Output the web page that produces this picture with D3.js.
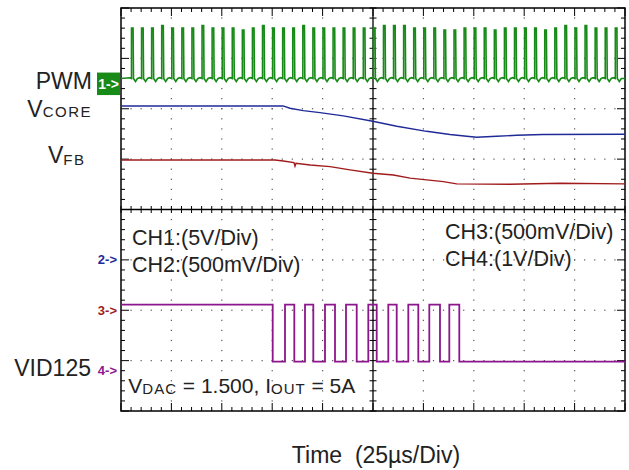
<!DOCTYPE html>
<html><head><meta charset="utf-8">
<script src="https://cdn.jsdelivr.net/npm/d3@7"></script>
<style>html,body{margin:0;padding:0;background:#fff;}svg{display:block;font-family:"Liberation Sans",Arial,sans-serif;}</style>
</head><body>
<svg id="c" width="629" height="470"></svg>
<script>
// ---- data (time in µs, values in volts) ----
const pwmTimes = [5.2,10.2,15.2,20.2,25.2,30.2,35.2,40.2,45.2,50.2,55.2,60.2,65.2,70.2,75.2,80.2,85.2,90.2,95.2,100.2,105.2,110.2,115.2,120.2,125.2,130.2,135.2,140.2,145.2,150.2,155.2,160.2,165.2,170.2,175.2,180.2,185.2,190.2,195.2,200.2,205.2,210.2,215.2,220.2,225.2,230.2,235.2,240.2,245.2];
const pwmPeaks = [5.5,5.5,5.5,5.75,5.5,5.5,5.5,5.75,5.5,5.5,5.5,5.3,5.5,5.75,5.5,5.5,5.5,5.75,5.5,5.5,5.5,5.5,5.5,5.5,5.5,5.75,5.75,5.75,5.5,5.5,5.5,5.3,5.3,5.5,5.5,5.5,5.3,5.5,5.5,5.5,5.5,5.3,5.5,5.75,5.5,5.75,5.5,5.5,5.5];
const pwmLow = 0.5;
const vcoreT = [0,80.4,83.8,90.4,98.7,110.3,124.9,136.8,151.6,163.2,171.5,176.4,186.4,196.3,209.3,250];
const vcoreV = [1.528,1.528,1.505,1.481,1.461,1.429,1.376,1.326,1.276,1.244,1.227,1.217,1.227,1.237,1.244,1.247];
const vfbT = [0,76.4,80.5,85.8,86.3,86.8,93.8,103.7,113.6,124.9,135.1,143.4,151.6,159.9,166.5,192.9,217.8,250];
const vfbV = [1.492,1.492,1.482,1.465,1.43,1.459,1.442,1.426,1.393,1.360,1.343,1.311,1.294,1.277,1.254,1.251,1.261,1.254];
const vidEdges = [75.25,81.35,85.96,91.27,95.39,101.19,106.15,111.61,116.92,122.67,126.84,132.59,136.76,142.51,147.47,152.93,158.23,162.85,167.81];
const vidHigh = 1.31, vidLow = 0.18;
const channels = [
  {name:"1->", offset:2.5, vdiv:5, color:"#178a17"},
  {name:"2->", offset:-1, vdiv:0.5, color:"#1f2a96"},
  {name:"3->", offset:-2, vdiv:0.5, color:"#a01c1c"},
  {name:"4->", offset:-3.2, vdiv:1, color:"#8c168c"}
];

// ---- scales ----
const svg = d3.select("#c");
const x = d3.scaleLinear().domain([0,250]).range([121,625]);
const y = d3.scaleLinear().domain([-4,4]).range([411,8]);
const chY = (ch, v) => y(ch.offset + v / ch.vdiv);
const textCol = "#222";

// ---- graticule ----
const xMinor = d3.range(0, 250.001, 5);
const yMinor = d3.range(-4, 4.001, 0.2);
const g = svg.append("g");
[1,2,3,4,6,7,8,9].forEach(k => {
  yMinor.slice(1,-1).forEach(m => g.append("rect").attr("x", x(k*25)-0.6).attr("y", y(m)-0.6).attr("width",1.2).attr("height",1.2).attr("fill","#555"));
});
[-3,-2,-1,1,2,3].forEach(j => {
  xMinor.slice(1,-1).forEach(t => g.append("rect").attr("x", x(t)-0.6).attr("y", y(j)-0.6).attr("width",1.2).attr("height",1.2).attr("fill","#555"));
});
g.append("line").attr("x1",x(0)).attr("x2",x(250)).attr("y1",y(0)).attr("y2",y(0)).attr("stroke","#000").attr("stroke-width",1.3);
g.append("line").attr("x1",x(125)).attr("x2",x(125)).attr("y1",y(-4)).attr("y2",y(4)).attr("stroke","#000").attr("stroke-width",1.3);
xMinor.forEach(t => g.append("line").attr("x1",x(t)).attr("x2",x(t)).attr("y1",y(0)-3.5).attr("y2",y(0)+3.5).attr("stroke","#000").attr("stroke-width",1));
yMinor.forEach(m => g.append("line").attr("x1",x(125)-3.5).attr("x2",x(125)+3.5).attr("y1",y(m)).attr("y2",y(m)).attr("stroke","#000").attr("stroke-width",1));
xMinor.forEach((t,i) => {
  const len = (i % 5 === 0) ? 8 : 4;
  g.append("line").attr("x1",x(t)).attr("x2",x(t)).attr("y1",y(4)).attr("y2",y(4)+len).attr("stroke","#000").attr("stroke-width",1);
  g.append("line").attr("x1",x(t)).attr("x2",x(t)).attr("y1",y(-4)).attr("y2",y(-4)-len).attr("stroke","#000").attr("stroke-width",1);
});
yMinor.forEach((m,i) => {
  const len = (i % 5 === 0) ? 8 : 4;
  g.append("line").attr("x1",x(0)).attr("x2",x(0)+len).attr("y1",y(m)).attr("y2",y(m)).attr("stroke","#000").attr("stroke-width",1);
  g.append("line").attr("x1",x(250)).attr("x2",x(250)-len).attr("y1",y(m)).attr("y2",y(m)).attr("stroke","#000").attr("stroke-width",1);
});
g.append("rect").attr("x",x(0)).attr("y",y(4)).attr("width",x(250)-x(0)).attr("height",y(-4)-y(4)).attr("fill","none").attr("stroke","#000").attr("stroke-width",1.5);

// ---- traces ----
const line = d3.line().x(d=>d[0]).y(d=>d[1]);
const c1 = channels[0];
const pwmPts = [[x(0), chY(c1,pwmLow)]];
pwmTimes.forEach((t,i) => {
  const px = x(t), base = chY(c1,pwmLow), top = chY(c1,pwmPeaks[i]);
  pwmPts.push([px-2, base-0.8],[px, base],[px, top],[px+1.6, top],[px+2, base],[px+4, base+3],[px+6, base]);
});
pwmPts.push([x(250), chY(c1,pwmLow)]);
svg.append("path").attr("d", line(pwmPts)).attr("fill","none").attr("stroke",c1.color).attr("stroke-width",1.6);
const c2 = channels[1];
svg.append("path").attr("d", line(vcoreT.map((t,i)=>[x(t), chY(c2,vcoreV[i])]))).attr("fill","none").attr("stroke",c2.color).attr("stroke-width",1.4);
const c3 = channels[2];
svg.append("path").attr("d", line(vfbT.map((t,i)=>[x(t), chY(c3,vfbV[i])]))).attr("fill","none").attr("stroke",c3.color).attr("stroke-width",1.4);
const c4 = channels[3];
const vidPts = [[x(0), chY(c4,vidHigh)]];
let lvl = vidHigh;
vidEdges.forEach(t => {
  vidPts.push([x(t), chY(c4,lvl)]);
  lvl = (lvl === vidHigh) ? vidLow : vidHigh;
  vidPts.push([x(t), chY(c4,lvl)]);
});
vidPts.push([x(250), chY(c4,lvl)]);
svg.append("path").attr("d", line(vidPts)).attr("fill","none").attr("stroke",c4.color).attr("stroke-width",1.8);

// ---- channel markers ----
svg.append("rect").attr("x",97).attr("y",chY(c1,0)-11).attr("width",23).attr("height",22.5).attr("fill",c1.color);
svg.append("text").attr("x",108.5).attr("y",chY(c1,0)+5).attr("text-anchor","middle").attr("font-size",14).attr("font-weight","bold").attr("fill","#fff").text(c1.name);
channels.slice(1).forEach(ch => {
  svg.append("text").attr("x",117).attr("y",chY(ch,0)+4.5).attr("text-anchor","end").attr("font-size",13).attr("font-weight","bold").attr("fill",ch.color).text(ch.name);
});

// ---- labels ----
function label(xp, yp, parts, anchor) {
  const t = svg.append("text").attr("x",xp).attr("y",yp).attr("fill",textCol).attr("text-anchor",anchor||"start").style("white-space","pre");
  parts.forEach(p => {
    const s = t.append("tspan").attr("font-size",p[1]).text(p[0]);
    if (p[2]) s.attr("letter-spacing",p[2]);
    if (p[3]) s.attr("dy",p[3]);
  });
  return t;
}
label(92, 89, [["PWM",23]], "end");
label(92, 116.7, [["V",23],["CORE",15,1.5,0.6]], "end");
label(85.5, 163.3, [["V",23],["FB",15,1.5,1.5]], "end");
label(91, 375.7, [["VID125",23]], "end");
label(132, 245, [["CH1:(5V/Div)",21.5]]);
label(132, 271.7, [["CH2:(500mV/Div)",21.5]]);
label(445, 239, [["CH3:(500mV/Div)",21.5]]);
label(445, 266, [["CH4:(1V/Div)",21.5]]);
label(128.3, 393.3, [["V",21],["DAC",15,1,0.5],[" = 1.500, ",21,0,-0.5],["I",21],["OUT",15,1,0.5],[" = 5A",21,0,-0.5]]);
label(376, 462.7, [["Time  (25\u00b5s/Div)",23]], "middle");
</script>
</body></html>
